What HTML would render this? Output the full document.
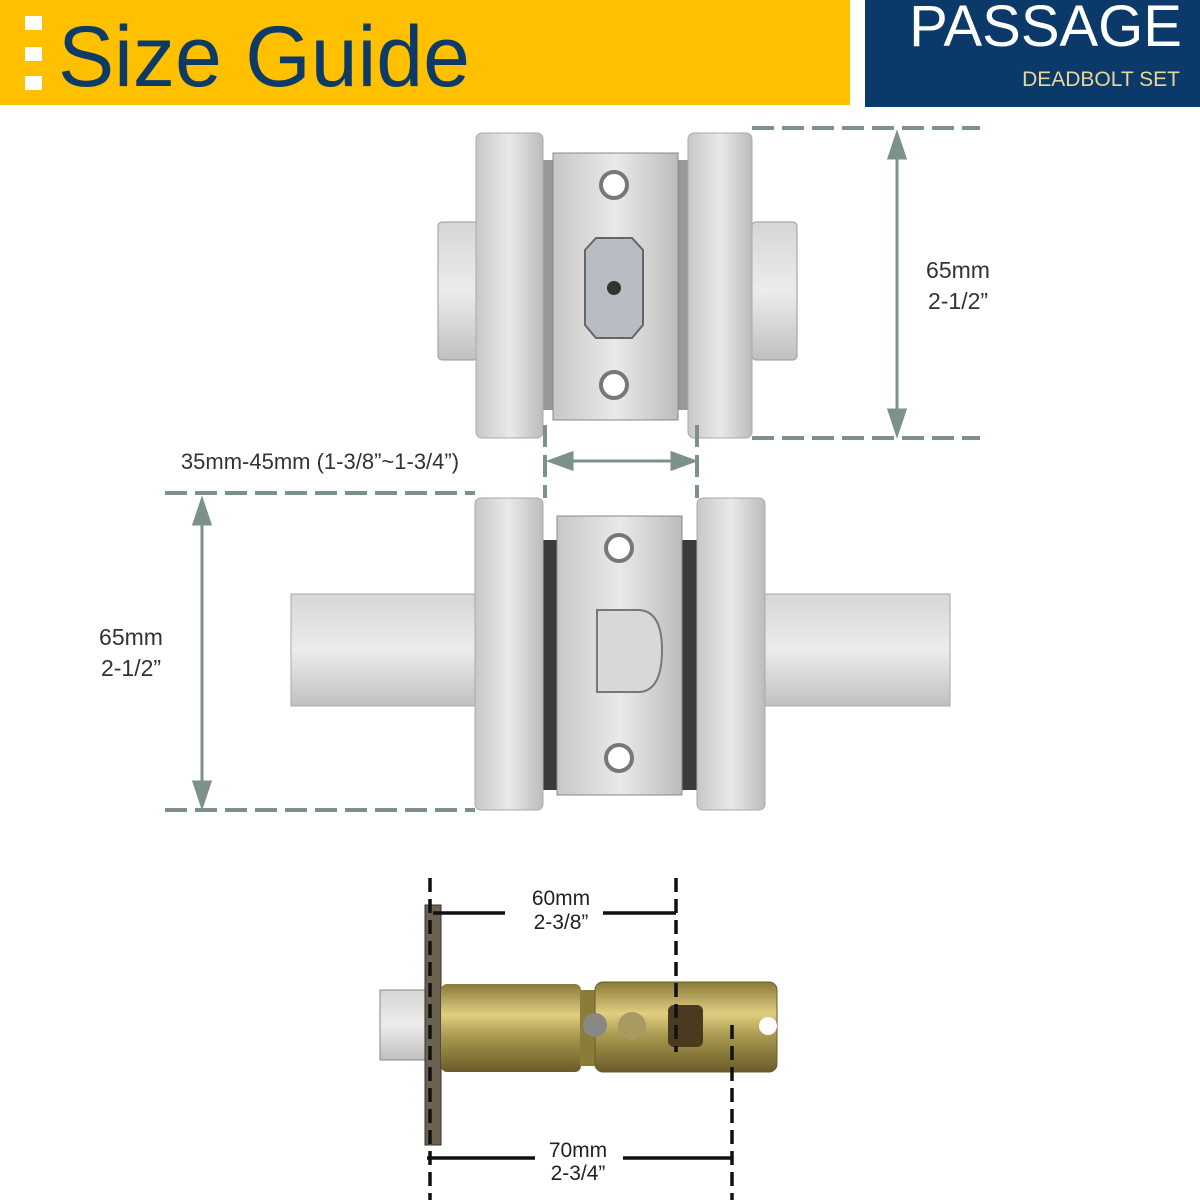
<!DOCTYPE html>
<html><head><meta charset="utf-8"><style>
body{margin:0;width:1200px;height:1200px;background:#fff;overflow:hidden}
svg{display:block}
text{font-family:"Liberation Sans",sans-serif}
</style></head><body>
<svg width="1200" height="1200" viewBox="0 0 1200 1200">
<defs>
<linearGradient id="met" x1="0" x2="1"><stop offset="0" stop-color="#c9c7c6"/><stop offset=".5" stop-color="#ebe9e8"/><stop offset="1" stop-color="#bebcbb"/></linearGradient>
<linearGradient id="metv" x1="0" y1="0" x2="0" y2="1"><stop offset="0" stop-color="#d8d6d5"/><stop offset=".5" stop-color="#eeeceb"/><stop offset="1" stop-color="#c2c0bf"/></linearGradient>
<linearGradient id="brass" x1="0" y1="0" x2="0" y2="1"><stop offset="0" stop-color="#8a7a3a"/><stop offset=".35" stop-color="#e0cf80"/><stop offset=".6" stop-color="#a89850"/><stop offset="1" stop-color="#6a5c28"/></linearGradient>
</defs>
<rect x="0" y="0" width="850" height="105" fill="#FFC000"/>
<rect x="25" y="16" width="17" height="14" fill="#fff"/>
<rect x="25" y="47" width="17" height="14" fill="#fff"/>
<rect x="25" y="76" width="17" height="14" fill="#fff"/>
<text x="58" y="86" font-size="86" fill="#0d3b66" textLength="412" lengthAdjust="spacingAndGlyphs">Size Guide</text>
<rect x="865" y="0" width="335" height="107" fill="#0b3a6a"/>
<text x="1182" y="46" font-size="58" fill="#fff" text-anchor="end">PASSAGE</text>
<text x="1180" y="86" font-size="21" fill="#e8d79a" text-anchor="end">DEADBOLT SET</text>

<rect x="438" y="222" width="40" height="138" rx="4" fill="url(#metv)" stroke="#999"/>
<rect x="752" y="222" width="45" height="138" rx="4" fill="url(#metv)" stroke="#999"/>
<rect x="543" y="160" width="145" height="250" fill="#9a9896"/>
<rect x="476" y="133" width="67" height="305" rx="6" fill="url(#met)" stroke="#aaa"/>
<rect x="688" y="133" width="64" height="305" rx="6" fill="url(#met)" stroke="#aaa"/>
<rect x="553" y="153" width="125" height="267" fill="url(#met)" stroke="#888"/>
<circle cx="614" cy="185" r="13" fill="#fff" stroke="#777" stroke-width="4"/>
<circle cx="614" cy="385" r="13" fill="#fff" stroke="#777" stroke-width="4"/>
<path d="M585 250 L596 238 L632 238 L643 250 L643 325 L632 338 L596 338 L585 325Z" fill="#b9bcc2" stroke="#666" stroke-width="2"/>
<circle cx="614" cy="288" r="7" fill="#333"/>

<g stroke="#7d918c" stroke-width="4" stroke-dasharray="22 8" fill="none">
<line x1="752" y1="128" x2="980" y2="128"/>
<line x1="752" y1="438" x2="980" y2="438"/>
<line x1="545" y1="425" x2="545" y2="498"/>
<line x1="697" y1="425" x2="697" y2="498"/>
<line x1="165" y1="493" x2="475" y2="493"/>
<line x1="165" y1="810" x2="475" y2="810"/>
</g>
<g stroke="#7d918c" stroke-width="3" fill="#7d918c">
<line x1="897" y1="150" x2="897" y2="418"/>
<path d="M897 134 L889 158 L905 158Z"/><path d="M897 434 L889 410 L905 410Z"/>
<line x1="565" y1="461" x2="678" y2="461"/>
<path d="M550 461 L572 453 L572 469Z"/><path d="M694 461 L672 453 L672 469Z"/>
<line x1="202" y1="515" x2="202" y2="790"/>
<path d="M202 500 L194 524 L210 524Z"/><path d="M202 806 L194 782 L210 782Z"/>
</g>
<text x="958" y="278" font-size="23" fill="#333" text-anchor="middle">65mm</text>
<text x="958" y="309" font-size="23" fill="#333" text-anchor="middle">2-1/2”</text>
<text x="320" y="469" font-size="22" fill="#333" text-anchor="middle">35mm-45mm (1-3/8”~1-3/4”)</text>
<text x="131" y="645" font-size="23" fill="#333" text-anchor="middle">65mm</text>
<text x="131" y="676" font-size="23" fill="#333" text-anchor="middle">2-1/2”</text>

<rect x="291" y="594" width="186" height="112" fill="url(#metv)" stroke="#aaa"/>
<rect x="765" y="594" width="185" height="112" fill="url(#metv)" stroke="#aaa"/>
<rect x="543" y="540" width="155" height="250" fill="#3a3a3a"/>
<rect x="475" y="498" width="68" height="312" rx="6" fill="url(#met)" stroke="#aaa"/>
<rect x="697" y="498" width="68" height="312" rx="6" fill="url(#met)" stroke="#aaa"/>
<rect x="557" y="516" width="125" height="279" fill="url(#met)" stroke="#888"/>
<circle cx="619" cy="548" r="13" fill="#fff" stroke="#777" stroke-width="4"/>
<circle cx="619" cy="758" r="13" fill="#fff" stroke="#777" stroke-width="4"/>
<path d="M597 610 L640 610 Q662 612 662 650 Q662 690 640 692 L597 692Z" fill="#d8d8da" stroke="#777" stroke-width="2"/>

<rect x="380" y="990" width="52" height="70" fill="url(#metv)" stroke="#888"/>
<rect x="425" y="905" width="16" height="240" fill="#6c6250" stroke="#333"/>
<rect x="441" y="984" width="140" height="88" rx="6" fill="url(#brass)"/>
<rect x="580" y="990" width="20" height="76" fill="#8c7c3a"/>
<rect x="595" y="982" width="182" height="90" rx="8" fill="url(#brass)" stroke="#6a5c28"/>
<circle cx="595" cy="1025" r="12" fill="#8a8884"/>
<circle cx="632" cy="1026" r="14" fill="#a89a60"/>
<rect x="668" y="1005" width="35" height="42" rx="6" fill="#4a3a20"/>
<circle cx="768" cy="1026" r="9" fill="#fff"/>
<g stroke="#111" stroke-width="3.5" stroke-dasharray="14 7" fill="none">
<line x1="430" y1="878" x2="430" y2="1200"/>
<line x1="676" y1="878" x2="676" y2="1052"/>
<line x1="732" y1="1025" x2="732" y2="1200"/>
</g>
<g stroke="#111" stroke-width="3.5">
<line x1="433" y1="913" x2="505" y2="913"/><line x1="603" y1="913" x2="676" y2="913"/>
<line x1="427" y1="1158" x2="535" y2="1158"/><line x1="623" y1="1158" x2="732" y2="1158"/>
</g>
<text x="561" y="905" font-size="21" fill="#222" text-anchor="middle">60mm</text>
<text x="561" y="929" font-size="21" fill="#222" text-anchor="middle">2-3/8”</text>
<text x="578" y="1157" font-size="21" fill="#222" text-anchor="middle">70mm</text>
<text x="578" y="1180" font-size="21" fill="#222" text-anchor="middle">2-3/4”</text>
</svg>
</body></html>
